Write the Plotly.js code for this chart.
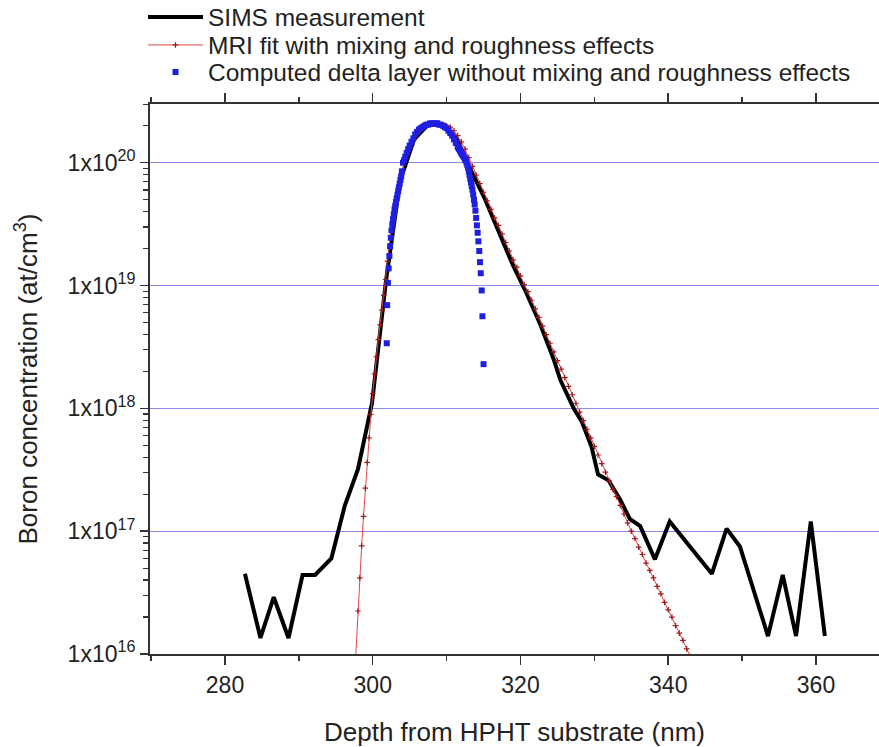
<!DOCTYPE html>
<html>
<head>
<meta charset="utf-8">
<script src="https://cdn.plot.ly/plotly-3.0.1.min.js"></script>
<style>html,body{margin:0;padding:0;background:#fff;}#chart{width:879px;height:747px;}</style>
</head>
<body>
<div id="chart"></div>
<script>
// SIMS measurement
const simsDepth = [282.7,284.8,286.6,288.6,290.5,292.2,294.4,296.2,298.0,299.9,301.8,303.7,305.6,307.5,309.4,311.3,313.2,315.1,317.0,318.9,320.8,322.7,324.5,325.4,327.2,328.3,329.6,330.5,331.9,333.5,334.8,336.2,338.2,340.2,345.9,347.9,349.7,353.5,355.5,357.3,359.3,361.2];
const simsConc = [4.5e16,1.35e16,2.9e16,1.35e16,4.4e16,4.4e16,6.0e16,1.6e17,3.2e17,1.1e18,1.1e19,7.1e19,1.55e20,2.04e20,2.04e20,1.6e20,8.9e19,5.2e19,2.8e19,1.5e19,8.7e18,4.8e18,2.5e18,1.7e18,1.0e18,7.8e17,4.9e17,2.9e17,2.6e17,1.8e17,1.26e17,1.1e17,5.9e16,1.2e17,4.5e16,1.05e17,7.5e16,1.4e16,4.4e16,1.4e16,1.2e17,1.4e16];

// MRI fit with mixing and roughness effects
const mriDepth = [297.7,298.0,298.25,298.5,298.75,299.0,299.25,299.5,299.75,300.0,300.25,300.5,300.75,301.0,301.25,301.5,301.75,302.0,302.5,303.0,303.5,304.0,304.5,305.0,305.5,306.0,306.5,307.0,307.5,308.0,308.5,309.0,309.5,310.0,310.5,311.0,311.5,312.0,312.5,313.0,313.5,314.0,314.5,315.0,315.5,316.0,316.5,317.0,317.5,318.0,318.5,319.0,319.5,320.0,320.5,321.0,321.5,322.0,322.5,323.0,323.5,324.0,324.5,325.0,325.5,326.0,326.5,327.0,327.5,328.0,328.5,329.0,329.5,330.0,330.5,331.0,331.5,332.0,332.5,333.0,333.5,334.0,334.5,335.0,335.5,336.0,336.5,337.0,337.5,338.0,338.5,339.0,339.5,340.0,340.5,341.0,341.5,342.0,342.5,343.0];
const mriConc = [9.5e15,2.24e16,4.17e16,7.59e16,1.32e17,2.24e17,3.63e17,5.75e17,8.91e17,1.32e18,1.91e18,2.63e18,3.63e18,4.79e18,6.31e18,8.32e18,1.12e19,1.58e19,2.82e19,4.47e19,6.31e19,8.51e19,1.10e20,1.32e20,1.55e20,1.74e20,1.86e20,2.0e20,2.04e20,2.09e20,2.09e20,2.09e20,2.04e20,2.0e20,1.95e20,1.82e20,1.66e20,1.48e20,1.29e20,1.10e20,9.33e19,7.94e19,6.76e19,5.75e19,4.9e19,4.17e19,3.55e19,3.09e19,2.63e19,2.24e19,1.91e19,1.62e19,1.41e19,1.20e19,1.02e19,8.91e18,7.59e18,6.46e18,5.50e18,4.68e18,3.98e18,3.39e18,2.88e18,2.45e18,2.09e18,1.78e18,1.51e18,1.29e18,1.10e18,9.33e17,7.94e17,6.76e17,5.75e17,4.90e17,4.17e17,3.55e17,3.02e17,2.57e17,2.19e17,1.91e17,1.62e17,1.38e17,1.17e17,1.0e17,8.71e16,7.41e16,6.46e16,5.5e16,4.79e16,4.17e16,3.55e16,3.09e16,2.63e16,2.29e16,2.0e16,1.70e16,1.48e16,1.29e16,1.10e16,9.55e15];

// Computed delta layer without mixing and roughness effects
const deltaDepth = [301.9,301.95,302.05,302.15,302.25,302.35,302.45,302.55,302.65,302.75,302.85,302.95,303.05,303.15,303.25,303.35,303.45,303.55,303.65,303.75,303.85,303.95,304.1,304.25,304.4,304.6,304.8,305.0,305.25,305.5,305.75,306.0,306.25,306.5,306.75,307.0,307.25,307.5,307.75,308.0,308.25,308.5,308.75,309.0,309.25,309.5,309.75,310.0,310.25,310.5,310.75,311.0,311.25,311.5,311.6,311.7,311.8,311.9,312.0,312.1,312.2,312.3,312.4,312.5,312.6,312.7,312.8,312.9,313.0,313.1,313.2,313.3,313.4,313.5,313.6,313.7,313.8,313.9,314.0,314.1,314.2,314.3,314.42,314.52,314.62,314.75,314.85,315.0];
const deltaConc = [3.39e18,6.92e18,1.05e19,1.38e19,1.74e19,2.09e19,2.45e19,2.82e19,3.16e19,3.47e19,3.80e19,4.17e19,4.47e19,4.79e19,5.13e19,5.50e19,5.89e19,6.31e19,6.76e19,7.24e19,7.76e19,8.51e19,1.0e20,1.05e20,1.12e20,1.20e20,1.29e20,1.38e20,1.48e20,1.58e20,1.70e20,1.78e20,1.86e20,1.91e20,1.95e20,2.0e20,2.04e20,2.04e20,2.09e20,2.09e20,2.09e20,2.09e20,2.09e20,2.04e20,2.04e20,2.0e20,1.95e20,1.91e20,1.82e20,1.74e20,1.66e20,1.55e20,1.45e20,1.35e20,1.32e20,1.29e20,1.26e20,1.23e20,1.20e20,1.17e20,1.15e20,1.12e20,1.10e20,1.07e20,1.04e20,1.0e20,9.55e19,9.12e19,8.51e19,7.94e19,7.41e19,6.92e19,6.46e19,6.03e19,5.50e19,5.01e19,4.57e19,4.07e19,3.55e19,3.09e19,2.69e19,2.29e19,1.91e19,1.55e19,1.26e19,9.12e18,5.62e18,2.29e18];

// Axis labels
const yTickVals = [1e16,1e17,1e18,1e19,1e20];
const yTickText = ['1x10<sup>16</sup>','1x10<sup>17</sup>','1x10<sup>18</sup>','1x10<sup>19</sup>','1x10<sup>20</sup>'];
const yMinorVals = [];
for (let e = 16; e <= 20; e++) { for (let d = 2; d <= 9; d++) yMinorVals.push(d * Math.pow(10, e)); }

const FONT = 'Liberation Sans, Arial, sans-serif';
const TXT = '#222';

const traces = [
  {x: simsDepth, y: simsConc, type: 'scatter', mode: 'lines', name: 'SIMS measurement',
   line: {color: '#000', width: 4}, legend: 'legend'},
  {x: mriDepth, y: mriConc, type: 'scatter', mode: 'lines+markers', name: 'MRI fit with mixing and roughness effects',
   line: {color: '#e04848', width: 1}, marker: {symbol: 'cross-thin', size: 4, color: '#a01818', line: {color: '#a01818', width: 1.2}},
   legend: 'legend2'},
  {x: deltaDepth, y: deltaConc, type: 'scatter', mode: 'markers', name: 'Computed delta layer without mixing and roughness effects',
   marker: {symbol: 'square', size: 6, color: '#1f1fe0'}, legend: 'legend3'}
];

const legendBase = {x: (143 - 150) / 729, xanchor: 'left', yanchor: 'middle', bgcolor: 'rgba(0,0,0,0)',
  font: {family: FONT, size: 24.5, color: TXT}, itemwidth: 55, borderwidth: 0};

const layout = {
  width: 879, height: 747,
  margin: {l: 150, r: 0, t: 104, b: 93, pad: 0, autoexpand: false},
  paper_bgcolor: '#fff', plot_bgcolor: '#fff',
  showlegend: true,
  legend: Object.assign({}, legendBase, {y: 1 + (104 - 17) / 550}),
  legend2: Object.assign({}, legendBase, {y: 1 + (104 - 45) / 550}),
  legend3: Object.assign({}, legendBase, {y: 1 + (104 - 72) / 550}),
  xaxis: {
    range: [269.85, 368.53], showgrid: false, zeroline: false,
    tickmode: 'linear', tick0: 0, dtick: 20,
    ticks: 'outside', ticklen: 9, tickwidth: 1.5, tickcolor: '#333',
    showline: true, linecolor: '#333', linewidth: 2, mirror: 'ticks',
    minor: {dtick: 10, ticks: 'outside', ticklen: 5, tickwidth: 1.5, tickcolor: '#333', showgrid: false},
    tickfont: {family: FONT, size: 23, color: TXT},
    title: {text: 'Depth from HPHT substrate (nm)', font: {family: FONT, size: 26, color: TXT}, standoff: 26}
  },
  yaxis: {
    type: 'log', range: [16, 20.478], zeroline: false,
    tickmode: 'array', tickvals: yTickVals, ticktext: yTickText,
    showgrid: true, gridcolor: '#8a8aee', gridwidth: 1,
    ticks: 'outside', ticklen: 8, tickwidth: 1.5, tickcolor: '#333',
    showline: true, linecolor: '#333', linewidth: 2, mirror: false,
    minor: {tickmode: 'array', tickvals: yMinorVals, ticks: 'outside', ticklen: 5, tickwidth: 1.2, tickcolor: '#333', showgrid: false},
    tickfont: {family: FONT, size: 23, color: TXT},
    title: {text: 'Boron concentration (at/cm<sup>3</sup>)', font: {family: FONT, size: 26, color: TXT}, standoff: 23}
  }
};

Plotly.newPlot('chart', traces, layout, {displayModeBar: false, staticPlot: true});
</script>
</body>
</html>
